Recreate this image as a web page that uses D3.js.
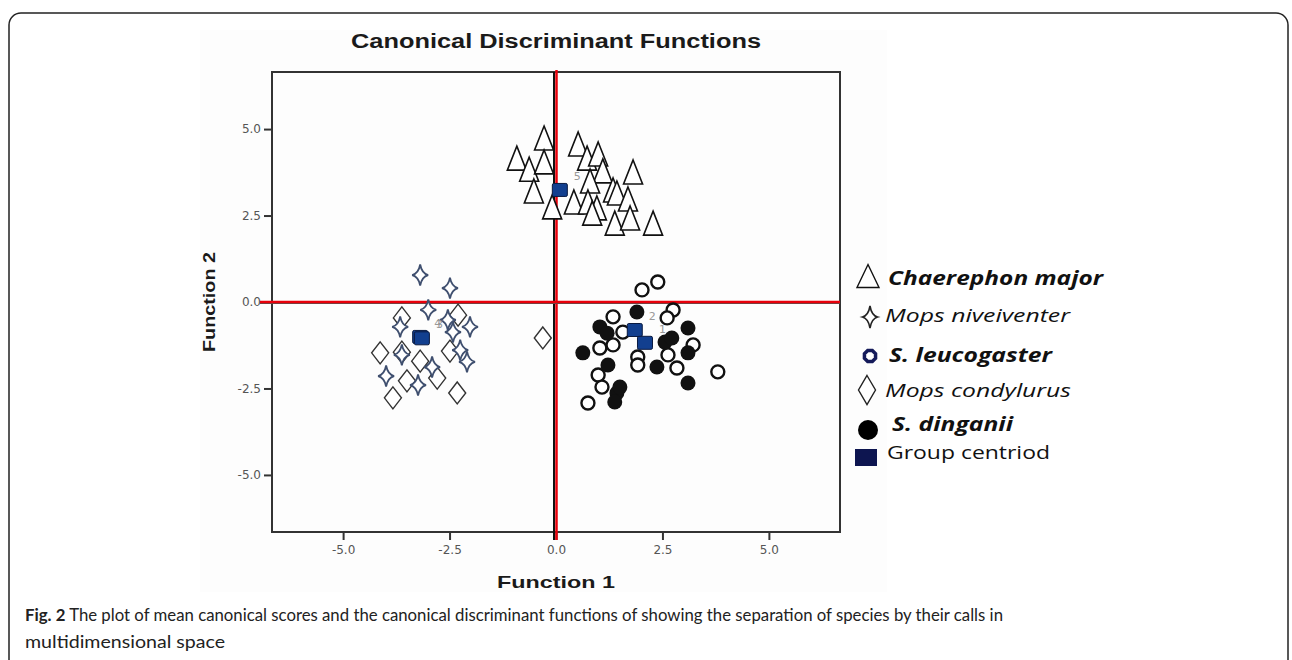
<!DOCTYPE html>
<html>
<head>
<meta charset="utf-8">
<script src="https://cdn.jsdelivr.net/npm/d3@7"></script>
<style>
  html, body { margin: 0; padding: 0; background: #fff; }
  svg { display: block; }
</style>
</head>
<body>
<svg id="vis" width="1292" height="660"></svg>
<script>
/**
 * Chart data
 */
const TITLE = "Canonical Discriminant Functions";
const XLABEL = "Function 1";
const YLABEL = "Function 2";
const XTICKS = [-5.0, -2.5, 0.0, 2.5, 5.0];
const YTICKS = [5.0, 2.5, 0.0, -2.5, -5.0];

// [function 1, function 2]
const chaerephonMajor = [
  [-0.28, 4.74], [-0.92, 4.16], [-0.63, 3.84], [-0.28, 4.05], [-0.52, 3.21],
  [-0.09, 2.75], [0.52, 4.57], [0.73, 4.16], [0.99, 4.28], [1.10, 3.79],
  [1.81, 3.76], [0.80, 3.50], [0.42, 2.89], [0.75, 2.89], [0.96, 2.72],
  [1.34, 3.24], [1.43, 3.15], [1.69, 2.98], [1.38, 2.28], [1.74, 2.43],
  [2.28, 2.28], [0.85, 2.57]
];
const mopsNiveiventer = [
  [-3.19, 0.78], [-2.49, 0.40], [-3.00, -0.23], [-3.66, -0.72], [-2.54, -0.52],
  [-2.42, -0.87], [-2.02, -0.72], [-3.62, -1.53], [-3.99, -2.14], [-3.24, -2.40],
  [-2.91, -1.88], [-2.25, -1.39], [-2.09, -1.73]
];
const sLeucogaster = [
  [2.02, 0.35], [2.39, 0.58], [1.34, -0.43], [2.75, -0.23], [2.61, -0.46],
  [1.34, -1.24], [1.03, -1.33], [1.92, -1.59], [1.92, -1.82], [3.22, -1.24],
  [2.84, -1.91], [3.80, -2.02], [0.99, -2.11], [1.08, -2.46], [0.75, -2.92],
  [1.57, -0.87], [2.63, -1.53]
];
const mopsCondylurus = [
  [-3.62, -0.46], [-2.30, -0.38], [-4.13, -1.47], [-3.62, -1.45], [-3.19, -1.71],
  [-3.50, -2.28], [-2.79, -2.20], [-2.49, -1.42], [-3.83, -2.77], [-2.32, -2.63],
  [-0.31, -1.04]
];
const sDinganii = [
  [0.63, -1.47], [1.03, -0.72], [1.20, -0.90], [1.22, -1.82], [1.43, -2.63],
  [1.38, -2.89], [1.90, -0.29], [2.37, -1.88], [2.56, -1.16], [2.72, -1.04],
  [3.10, -0.75], [3.10, -1.47], [3.10, -2.34], [1.50, -2.46]
];
const groupCentroids = [
  [0.09, 3.24], [-3.19, -1.01], [-3.15, -1.05], [1.85, -0.81], [2.09, -1.18]
];
const centroidLabels = ["5", "4", "3", "2", "1"];

const legendLabels = ["Chaerephon major", "Mops niveiventer", "S. leucogaster",
  "Mops condylurus", "S. dinganii", "Group centriod"];

const captionBold = "Fig. 2";
const captionLine1 = " The plot of mean canonical scores and the canonical discriminant functions of showing the separation of species by their calls in";
const captionLine2 = "multidimensional space";

/**
 * Layout
 */
const PLOT = {left: 272, right: 840, top: 72, bottom: 532};
const NAVY = "#123f8f";

const svg = d3.select("#vis");

// marker shapes, centred on 0,0
function trianglePath(w, h) {
  return `M0,${-h / 2}L${w / 2},${h / 2}L${-w / 2},${h / 2}Z`;
}
function starPath(w, h) {
  let a = w / 2, b = h / 2, c = 1.6;
  return `M0,${-b}Q${c},${-c} ${a},0Q${c},${c} 0,${b}Q${-c},${c} ${-a},0Q${-c},${-c} 0,${-b}Z`;
}
function diamondPath(w, h) {
  return `M0,${-h / 2}L${w / 2},0L0,${h / 2}L${-w / 2},0Z`;
}
function octagonPath(r) {
  return d3.line()(d3.range(8).map(i => {
    let t = Math.PI / 8 + i * Math.PI / 4;
    return [r * Math.cos(t), r * Math.sin(t)];
  })) + "Z";
}

// outer figure frame
svg.append("rect")
  .attr("x", 9).attr("y", 13)
  .attr("width", 1279).attr("height", 700)
  .attr("rx", 12)
  .attr("fill", "none")
  .attr("stroke", "#222")
  .attr("stroke-width", 1.5);

// faint background of the pasted chart image
svg.append("rect")
  .attr("x", 200).attr("y", 30)
  .attr("width", 687).attr("height", 562)
  .attr("fill", "#fdfdfd");

const x = d3.scaleLinear().domain([-6.67, 6.67]).range([PLOT.left, PLOT.right]);
const y = d3.scaleLinear().domain([-6.65, 6.65]).range([PLOT.bottom, PLOT.top]);

// title
svg.append("text")
  .attr("x", x(0)).attr("y", 48)
  .attr("text-anchor", "middle")
  .style("font-family", "'Liberation Sans', Arial, sans-serif")
  .style("font-weight", "bold")
  .style("font-size", "20px")
  .attr("fill", "#1a1a1a")
  .attr("textLength", 410)
  .attr("lengthAdjust", "spacingAndGlyphs")
  .text(TITLE);

// axes
const fmt = d => d.toFixed(1);
const yAxis = svg.append("g")
  .attr("transform", `translate(${PLOT.left},0)`)
  .call(d3.axisLeft(y).tickValues(YTICKS).tickFormat(fmt).tickSize(8).tickPadding(3).tickSizeOuter(0));
const xAxis = svg.append("g")
  .attr("transform", `translate(0,${PLOT.bottom})`)
  .call(d3.axisBottom(x).tickValues(XTICKS).tickFormat(fmt).tickSize(8).tickPadding(5).tickSizeOuter(0));

[xAxis, yAxis].forEach(g => {
  g.select(".domain").remove();
  g.selectAll(".tick line").attr("stroke", "#333").attr("stroke-width", 2);
  g.selectAll(".tick text")
    .attr("fill", "#555")
    .style("font-family", "'DejaVu Sans', sans-serif")
    .style("font-size", "12px");
});

// plot frame
svg.append("rect")
  .attr("x", PLOT.left).attr("y", PLOT.top)
  .attr("width", PLOT.right - PLOT.left)
  .attr("height", PLOT.bottom - PLOT.top)
  .attr("fill", "none")
  .attr("stroke", "#333")
  .attr("stroke-width", 2);

// axis labels
svg.append("text")
  .attr("x", x(0)).attr("y", 588)
  .attr("text-anchor", "middle")
  .style("font-family", "'Liberation Sans', Arial, sans-serif")
  .style("font-weight", "bold")
  .style("font-size", "17px")
  .attr("fill", "#1a1a1a")
  .attr("textLength", 118)
  .attr("lengthAdjust", "spacingAndGlyphs")
  .text(XLABEL);

svg.append("text")
  .attr("transform", `translate(215,${y(0)}) rotate(-90)`)
  .attr("text-anchor", "middle")
  .style("font-family", "'Liberation Sans', Arial, sans-serif")
  .style("font-weight", "bold")
  .style("font-size", "17px")
  .attr("fill", "#1a1a1a")
  .attr("textLength", 100)
  .attr("lengthAdjust", "spacingAndGlyphs")
  .text(YLABEL);

// zero reference lines (dark line with red beside it)
svg.append("line")
  .attr("x1", x(0) - 2).attr("x2", x(0) - 2)
  .attr("y1", PLOT.top).attr("y2", PLOT.bottom + 8)
  .attr("stroke", "#111").attr("stroke-width", 2);
svg.append("line")
  .attr("x1", x(0) + 0.5).attr("x2", x(0) + 0.5)
  .attr("y1", PLOT.top - 2).attr("y2", PLOT.bottom + 8)
  .attr("stroke", "#e8000b").attr("stroke-width", 2.5);
svg.append("line")
  .attr("x1", PLOT.left - 12).attr("x2", PLOT.right)
  .attr("y1", y(0) + 1.5).attr("y2", y(0) + 1.5)
  .attr("stroke", "#555").attr("stroke-width", 1);
svg.append("line")
  .attr("x1", PLOT.left - 12).attr("x2", PLOT.right)
  .attr("y1", y(0)).attr("y2", y(0))
  .attr("stroke", "#e8000b").attr("stroke-width", 2.5);

// points
const pts = svg.append("g");

pts.selectAll(".cm").data(chaerephonMajor).enter().append("path")
  .attr("class", "cm")
  .attr("transform", d => `translate(${x(d[0])},${y(d[1])})`)
  .attr("d", trianglePath(19, 24))
  .attr("fill", "#fff").attr("stroke", "#111").attr("stroke-width", 1.6)
  .attr("stroke-linejoin", "miter");

pts.selectAll(".mc").data(mopsCondylurus).enter().append("path")
  .attr("class", "mc")
  .attr("transform", d => `translate(${x(d[0])},${y(d[1])})`)
  .attr("d", diamondPath(17, 22))
  .attr("fill", "#fff").attr("stroke", "#333").attr("stroke-width", 1.4);

pts.selectAll(".mn").data(mopsNiveiventer).enter().append("path")
  .attr("class", "mn")
  .attr("transform", d => `translate(${x(d[0])},${y(d[1])})`)
  .attr("d", starPath(16, 21))
  .attr("fill", "#fff").attr("stroke", "#3f4f6f").attr("stroke-width", 1.8);

pts.selectAll(".sl").data(sLeucogaster).enter().append("circle")
  .attr("class", "sl")
  .attr("cx", d => x(d[0])).attr("cy", d => y(d[1]))
  .attr("r", 6.5)
  .attr("fill", "#fff").attr("stroke", "#111").attr("stroke-width", 2.4);

pts.selectAll(".sd").data(sDinganii).enter().append("circle")
  .attr("class", "sd")
  .attr("cx", d => x(d[0])).attr("cy", d => y(d[1]))
  .attr("r", 7.5)
  .attr("fill", "#111");

pts.selectAll(".gc").data(groupCentroids).enter().append("rect")
  .attr("class", "gc")
  .attr("x", d => x(d[0]) - 7.5).attr("y", d => y(d[1]) - 6.5)
  .attr("width", 15).attr("height", 13)
  .attr("rx", 1.5)
  .attr("fill", NAVY).attr("stroke", "#0a1a40").attr("stroke-width", 1);

pts.selectAll(".gl").data(groupCentroids).enter().append("text")
  .attr("class", "gl")
  .attr("x", d => x(d[0]) + 14).attr("y", d => y(d[1]) - 10)
  .style("font-family", "'DejaVu Sans', sans-serif")
  .style("font-size", "11px")
  .attr("fill", "#999")
  .text((d, i) => centroidLabels[i]);

// legend
const LEG = [
  {y: 285, ix: 868, iy: 276, bold: true, italic: true, tx: 888, w: 215},
  {y: 322, ix: 870, iy: 317, bold: false, italic: true, tx: 885, w: 185},
  {y: 362, ix: 870, iy: 356, bold: true, italic: true, tx: 889, w: 163},
  {y: 397, ix: 867, iy: 390, bold: false, italic: true, tx: 885, w: 186},
  {y: 431, ix: 868, iy: 430, bold: true, italic: true, tx: 892, w: 121},
  {y: 459, ix: 866, iy: 457, bold: false, italic: false, tx: 887, w: 163}
];

const legend = svg.append("g").attr("class", "legend");
legend.selectAll("text").data(legendLabels).enter().append("text")
  .attr("x", (d, i) => LEG[i].tx)
  .attr("y", (d, i) => LEG[i].y)
  .style("font-family", "'Open Sans', 'Noto Sans', sans-serif")
  .style("font-size", "19px")
  .style("font-weight", (d, i) => LEG[i].bold ? "bold" : "normal")
  .style("font-style", (d, i) => LEG[i].italic ? "italic" : "normal")
  .attr("fill", "#111")
  .attr("textLength", (d, i) => LEG[i].w)
  .attr("lengthAdjust", "spacingAndGlyphs")
  .text(d => d);

const icon = (i) => `translate(${LEG[i].ix},${LEG[i].iy})`;
legend.append("path").attr("transform", icon(0)).attr("d", trianglePath(22, 23))
  .attr("fill", "#fff").attr("stroke", "#111").attr("stroke-width", 1.4);
legend.append("path").attr("transform", icon(1)).attr("d", starPath(15, 22))
  .attr("fill", "#fff").attr("stroke", "#222").attr("stroke-width", 1.6);
legend.append("path").attr("transform", icon(2)).attr("d", octagonPath(6))
  .attr("fill", "#fff").attr("stroke", "#141a5a").attr("stroke-width", 3.5);
legend.append("path").attr("transform", icon(3)).attr("d", diamondPath(17, 29))
  .attr("fill", "#fff").attr("stroke", "#222").attr("stroke-width", 1.4);
legend.append("circle").attr("transform", icon(4)).attr("r", 10).attr("fill", "#000");
legend.append("rect").attr("transform", icon(5))
  .attr("x", -11).attr("y", -8).attr("width", 22).attr("height", 17)
  .attr("fill", "#0d1550");

// caption
const cap = svg.append("text")
  .attr("x", 25).attr("y", 621)
  .style("font-family", "Lato, 'Noto Sans', sans-serif")
  .style("font-size", "17px")
  .attr("fill", "#222")
  .attr("textLength", 978)
  .attr("lengthAdjust", "spacingAndGlyphs");
cap.append("tspan").style("font-weight", "bold").text(captionBold);
cap.append("tspan").text(captionLine1);

svg.append("text")
  .attr("x", 25).attr("y", 648)
  .style("font-family", "Lato, 'Noto Sans', sans-serif")
  .style("font-size", "17px")
  .attr("fill", "#222")
  .attr("textLength", 200)
  .attr("lengthAdjust", "spacingAndGlyphs")
  .text(captionLine2);
</script>
</body>
</html>
